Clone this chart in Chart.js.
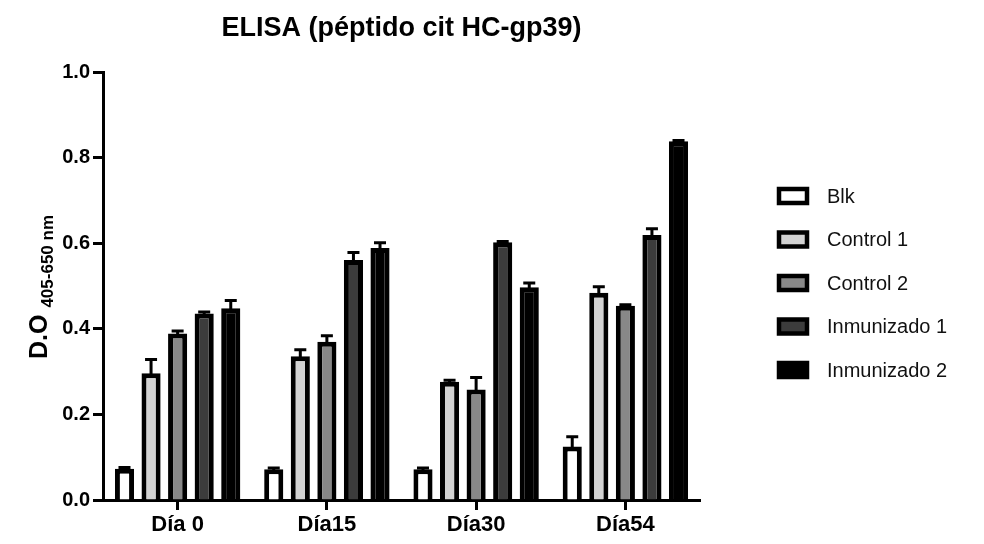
<!DOCTYPE html>
<html>
<head>
<meta charset="utf-8">
<script src="https://cdn.jsdelivr.net/npm/chart.js@4"></script>
<style>
  html, body { margin: 0; padding: 0; background: #fff; }
  #wrap { width: 984px; height: 544px; }
</style>
</head>
<body>
<div id="wrap"><canvas id="elisaChart" width="984" height="544"></canvas></div>
<script>
const days = ['Día 0', 'Día15', 'Día30', 'Día54'];
const yTicks = [0, 0.2, 0.4, 0.6, 0.8, 1.0];

const blk = [0.073, 0.072, 0.072, 0.125];
const control1 = [0.296, 0.336, 0.276, 0.484];
const control2 = [0.389, 0.370, 0.258, 0.454];
const inmunizado1 = [0.436, 0.561, 0.602, 0.619];
const inmunizado2 = [0.448, 0.589, 0.497, 0.838];

const blkErr = [0.003, 0.003, 0.003, 0.023];
const control1Err = [0.032, 0.015, 0.004, 0.014];
const control2Err = [0.006, 0.014, 0.028, 0.002];
const inmunizado1Err = [0.003, 0.017, 0.002, 0.015];
const inmunizado2Err = [0.018, 0.012, 0.010, 0.002];

const FONT = "'Liberation Sans', Arial, sans-serif";

const series = [
    { label: 'Blk', data: blk, err: blkErr, color: '#ffffff' },
    { label: 'Control 1', data: control1, err: control1Err, color: '#d2d2d2' },
    { label: 'Control 2', data: control2, err: control2Err, color: '#888888' },
    { label: 'Inmunizado 1', data: inmunizado1, err: inmunizado1Err, color: '#3c3c3c' },
    { label: 'Inmunizado 2', data: inmunizado2, err: inmunizado2Err, color: '#000000' }
];

// error bars (upper half only), positioned through the y scale
const errorBars = {
    id: 'errorBars',
    afterDatasetsDraw(chart) {
        const ctx = chart.ctx;
        const y = chart.scales.y;
        ctx.save();
        ctx.strokeStyle = '#000';
        ctx.lineWidth = 3;
        chart.data.datasets.forEach((ds, i) => {
            const meta = chart.getDatasetMeta(i);
            meta.data.forEach((bar, j) => {
                const top = y.getPixelForValue(ds.data[j] + ds.errors[j]);
                ctx.beginPath();
                ctx.moveTo(bar.x, bar.y + 2);
                ctx.lineTo(bar.x, top);
                ctx.moveTo(bar.x - 6, top);
                ctx.lineTo(bar.x + 6, top);
                ctx.stroke();
            });
        });
        ctx.restore();
    }
};

// title, y axis title with subscript, and legend
const decorations = {
    id: 'decorations',
    afterDraw(chart) {
        const ctx = chart.ctx;
        const area = chart.chartArea;
        ctx.save();

        ctx.fillStyle = '#000';
        ctx.font = 'bold 27px ' + FONT;
        ctx.textAlign = 'center';
        ctx.textBaseline = 'middle';
        ctx.fillText('ELISA (péptido cit HC-gp39)', (area.left + area.right) / 2, 29);

        ctx.save();
        ctx.translate(47, 287);
        ctx.rotate(-Math.PI / 2);
        ctx.textAlign = 'left';
        ctx.textBaseline = 'alphabetic';
        ctx.font = 'bold 25px ' + FONT;
        const w1 = ctx.measureText('D.O').width;
        ctx.font = 'bold 17px ' + FONT;
        const w2 = ctx.measureText('405-650 nm').width;
        const start = -(w1 + 7 + w2) / 2;
        ctx.font = 'bold 25px ' + FONT;
        ctx.fillText('D.O', start, 0);
        ctx.font = 'bold 17px ' + FONT;
        ctx.fillText('405-650 nm', start + w1 + 7, 6);
        ctx.restore();

        ctx.font = '20px ' + FONT;
        ctx.textAlign = 'left';
        ctx.textBaseline = 'middle';
        chart.data.datasets.forEach((ds, i) => {
            const cy = 196 + i * 43.5;
            ctx.fillStyle = ds.backgroundColor;
            ctx.fillRect(779, cy - 7, 28, 14);
            ctx.strokeStyle = '#000';
            ctx.lineWidth = 4.5;
            ctx.strokeRect(779, cy - 7, 28, 14);
            ctx.fillStyle = '#111';
            ctx.fillText(ds.label, 827, cy + 1);
        });
        ctx.restore();
    }
};

new Chart(document.getElementById('elisaChart'), {
    type: 'bar',
    data: {
        labels: days,
        datasets: series.map(s => ({
            label: s.label,
            data: s.data,
            errors: s.err,
            backgroundColor: s.color,
            borderColor: '#000',
            borderWidth: 5,
            borderSkipped: 'bottom',
            barPercentage: 0.72,
            categoryPercentage: 0.89
        }))
    },
    options: {
        responsive: false,
        animation: false,
        layout: { padding: { top: 72, right: 284, left: 0, bottom: 0 } },
        plugins: {
            legend: { display: false },
            title: { display: false },
            tooltip: { enabled: false }
        },
        scales: {
            x: {
                afterFit(scale) { scale.height = 44; },
                grid: {
                    offset: false,
                    drawOnChartArea: false,
                    tickLength: 10,
                    tickWidth: 3,
                    tickColor: '#000'
                },
                border: { color: '#000', width: 3 },
                ticks: {
                    color: '#000',
                    padding: 2,
                    font: { family: FONT, size: 22, weight: 'bold' }
                }
            },
            y: {
                min: 0,
                max: 1,
                afterFit(scale) { scale.width = 103; },
                afterBuildTicks(scale) { scale.ticks = yTicks.map(v => ({ value: v })); },
                grid: {
                    drawOnChartArea: false,
                    tickLength: 10,
                    tickWidth: 3,
                    tickColor: '#000'
                },
                border: { color: '#000', width: 3 },
                ticks: {
                    color: '#000',
                    padding: 3,
                    font: { family: FONT, size: 20, weight: 'bold' },
                    callback: v => v.toFixed(1)
                }
            }
        }
    },
    plugins: [errorBars, decorations]
});
</script>
</body>
</html>
